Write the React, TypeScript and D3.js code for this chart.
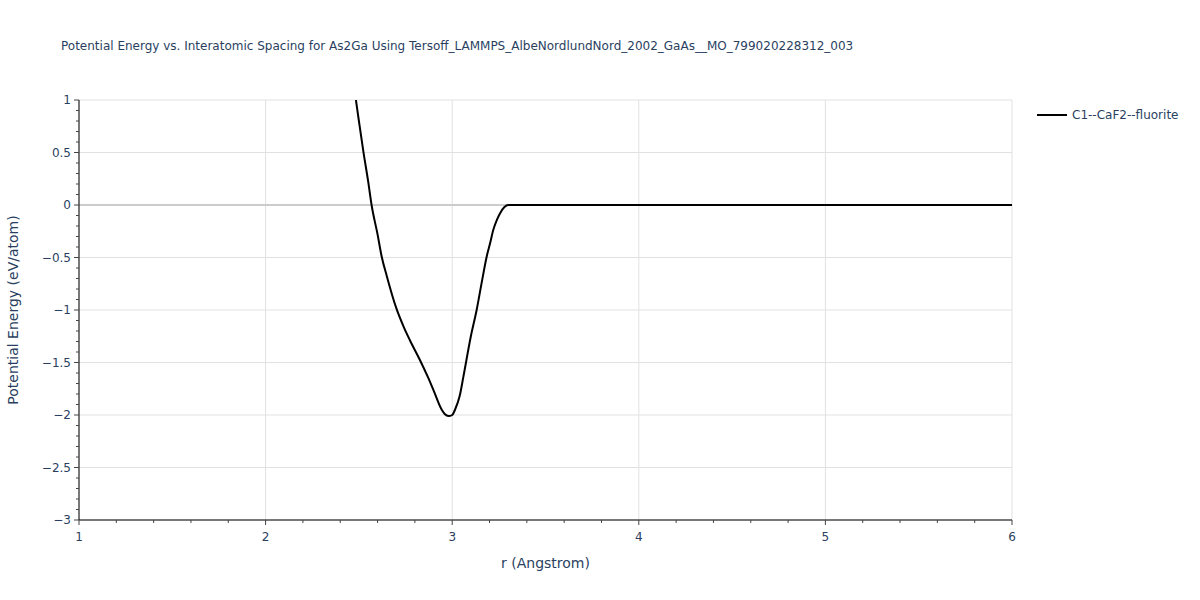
import React from "react";
import * as d3 from "d3";

const rValues = [2.484, 2.5, 2.524, 2.55, 2.568, 2.6, 2.622, 2.65, 2.7, 2.74, 2.774, 2.827, 2.87, 2.899, 2.944, 2.96, 2.98, 3.0, 3.015, 3.04, 3.06, 3.1, 3.131, 3.16, 3.185, 3.203, 3.22, 3.24, 3.256, 3.28, 3.3, 3.4, 3.6, 4.0, 4.5, 5.0, 5.5, 6.0];
const energyValues = [1.0, 0.8, 0.508, 0.22, 0.0, -0.28, -0.49, -0.68, -0.98, -1.16, -1.29, -1.476, -1.64, -1.76, -1.95, -1.99, -2.01, -2.0, -1.95, -1.82, -1.635, -1.25, -1.0, -0.72, -0.49, -0.365, -0.238, -0.14, -0.08, -0.02, 0.0, 0.0, 0.0, 0.0, 0.0, 0.0, 0.0, 0.0];
const xTicks = [1, 2, 3, 4, 5, 6];
const yTicks = [1, 0.5, 0, -0.5, -1, -1.5, -2, -2.5, -3];
const seriesName = "C1--CaF2--fluorite";
const title = "Potential Energy vs. Interatomic Spacing for As2Ga Using Tersoff_LAMMPS_AlbeNordlundNord_2002_GaAs__MO_799020228312_003";

const W = 1200, H = 600;
const L = 79, R = 1012, T = 100, B = 520;
const font = '"DejaVu Sans", verdana, sans-serif';
const txt = "#2a3f5f";

export default function App() {
  const x = d3.scaleLinear().domain([1, 6]).range([L, R]);
  const y = d3.scaleLinear().domain([-3, 1]).range([B, T]);
  const pts = rValues.map((r, i) => [r, energyValues[i]] as [number, number]);
  const line = d3.line<[number, number]>().x(d => x(d[0])).y(d => y(d[1])).curve(d3.curveMonotoneX);
  const xMinor = d3.range(1, 6.001, 0.2).map(v => +v.toFixed(2));
  const yMinor = d3.range(-3, 1.001, 0.1).map(v => +v.toFixed(2));
  const fmt = (v: number) => (v < 0 ? "\u2212" + Math.abs(v) : String(v));
  return (
    <svg width={W} height={H} style={{ position: "absolute", left: 0, top: 0, background: "#fff" }}>
      <defs>
        <clipPath id="plotclip"><rect x={L} y={T} width={R - L} height={B - T} /></clipPath>
      </defs>
      {xTicks.map(v => (
        <line key={"gx" + v} x1={x(v)} x2={x(v)} y1={T} y2={B} stroke="#e1e1e1" strokeWidth={1} />
      ))}
      {yTicks.map(v => (
        <line key={"gy" + v} x1={L} x2={R} y1={y(v)} y2={y(v)} stroke={v === 0 ? "#cccccc" : "#e1e1e1"} strokeWidth={v === 0 ? 2 : 1} />
      ))}
      <path d={line(pts) || ""} fill="none" stroke="#000" strokeWidth={2} clipPath="url(#plotclip)" />
      <line x1={L} x2={R} y1={B} y2={B} stroke="#000" strokeWidth={1} />
      <line x1={L} x2={L} y1={T} y2={B} stroke="#000" strokeWidth={1} />
      {xMinor.map(v => (
        <line key={"xm" + v} x1={x(v)} x2={x(v)} y1={B} y2={B + (xTicks.includes(v) ? 5 : 3)} stroke="#444" strokeWidth={1} />
      ))}
      {yMinor.map(v => (
        <line key={"ym" + v} x1={L} x2={L - (Math.abs(v * 2 - Math.round(v * 2)) < 1e-6 ? 5 : 3)} y1={y(v)} y2={y(v)} stroke="#444" strokeWidth={1} />
      ))}
      {xTicks.map(v => (
        <text key={"xt" + v} x={x(v)} y={B + 21} textAnchor="middle" fontFamily={font} fontSize={12} fill={txt}>{v}</text>
      ))}
      {yTicks.map(v => (
        <text key={"yt" + v} x={L - 8} y={y(v) + 4} textAnchor="end" fontFamily={font} fontSize={12} fill={txt}>{fmt(v)}</text>
      ))}
      <text x={(L + R) / 2} y={568} textAnchor="middle" fontFamily={font} fontSize={14} fill={txt}>r (Angstrom)</text>
      <text transform={`translate(18,${(T + B) / 2}) rotate(-90)`} textAnchor="middle" fontFamily={font} fontSize={14} fill={txt}>Potential Energy (eV/atom)</text>
      <text x={61} y={50} fontFamily={font} fontSize={12} fill={txt}>{title}</text>
      <line x1={1037} x2={1067} y1={115} y2={115} stroke="#000" strokeWidth={2} />
      <text x={1072} y={119} fontFamily={font} fontSize={12} fill={txt}>{seriesName}</text>
    </svg>
  );
}
